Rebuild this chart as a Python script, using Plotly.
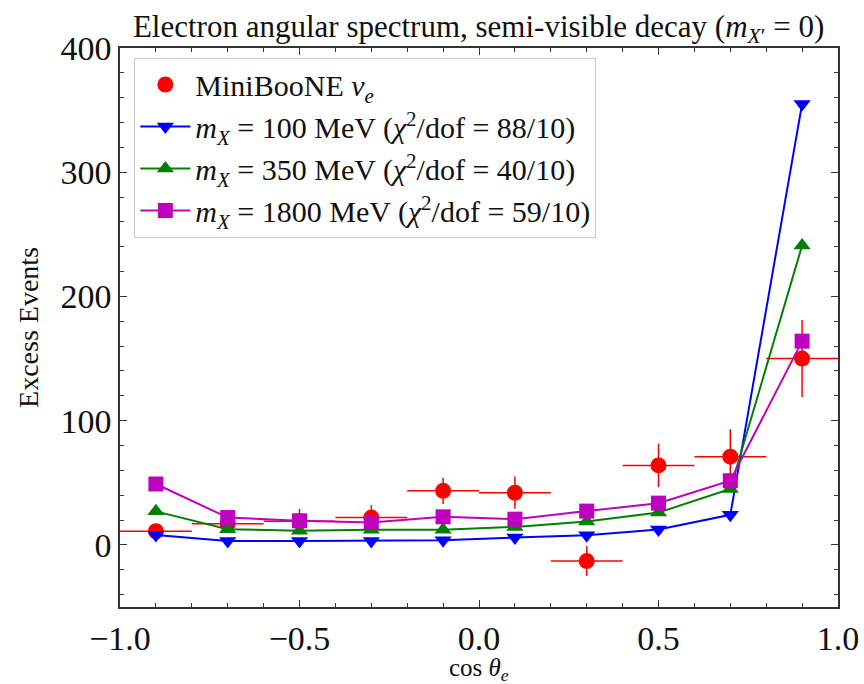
import plotly.graph_objects as go

# Bin centres (cos theta_e)
cos_theta = [-0.9, -0.7, -0.5, -0.3, -0.1, 0.1, 0.3, 0.5, 0.7, 0.9]
bin_half_width = [0.1] * 10

# MiniBooNE nu_e excess
data_y = [11, 17, 19, 22, 43.5, 42, -13, 64, 71, 150]
data_err = [4, 5, 10, 10, 10.5, 13, 12, 17.5, 22, 31]

# Model predictions
m100 = [8, 3.2, 3.2, 3.2, 3.8, 5.9, 7.8, 12.4, 24.2, 355]
m350 = [27, 12.6, 11.3, 12.1, 12.1, 14.5, 18.8, 26, 45, 241]
m1800 = [49, 22, 19.4, 18, 22.6, 20.7, 27.2, 33.6, 51.6, 164]

FONT = "Liberation Serif"

fig = go.Figure()

fig.add_trace(go.Scatter(
    x=cos_theta, y=data_y, mode="markers",
    name="MiniBooNE <i>ν<sub>e</sub></i>",
    marker=dict(symbol="circle", size=16, color="#ff0000"),
    error_y=dict(type="data", array=data_err, color="#ff0000", thickness=1.5, width=0),
    error_x=dict(type="data", array=bin_half_width, color="#ff0000", thickness=1.5, width=0),
))

series = [
    (m100, "#0000ff", "triangle-down", "100", "88/10"),
    (m350, "#008000", "triangle-up", "350", "40/10"),
    (m1800, "#bf00bf", "square", "1800", "59/10"),
]
for vals, col, sym, mass, chi in series:
    fig.add_trace(go.Scatter(
        x=cos_theta, y=vals, mode="lines+markers",
        name=f"<i>m<sub>X</sub></i> = {mass} MeV (<i>χ</i><sup>2</sup>/dof = {chi})",
        line=dict(color=col, width=2),
        marker=dict(symbol=sym, size=15, color=col),
    ))

axis_common = dict(
    showline=True, linecolor="#333333", linewidth=1.5, mirror="allticks",
    ticks="inside", ticklen=7, tickwidth=1.2, tickcolor="#333333",
    showgrid=False, zeroline=False, automargin=False,
    tickfont=dict(family=FONT, size=34, color="#111111"),
)

fig.update_xaxes(
    range=[-1.0, 1.0], dtick=0.5, tickformat=".1f",
    minor=dict(ticks="inside", ticklen=4, dtick=0.1, tickcolor="#333333", showgrid=False),
    **axis_common,
)
fig.update_yaxes(
    range=[-50, 400], dtick=100,
    minor=dict(ticks="inside", ticklen=4, dtick=20, tickcolor="#333333", showgrid=False),
    title=dict(text="Excess Events", font=dict(family=FONT, size=28, color="#111111"), standoff=14),
    **axis_common,
)

fig.update_layout(
    width=864, height=684,
    margin=dict(l=120, r=26, t=48, b=77),
    paper_bgcolor="white", plot_bgcolor="white",
    title=dict(
        text="Electron angular spectrum, semi-visible decay (<i>m</i><sub><i>X</i>′</sub> = 0)",
        font=dict(family=FONT, size=31, color="#111111"),
        x=0.554, xanchor="center", y=0.962, yanchor="middle",
    ),
    legend=dict(
        x=0.02, y=0.983, xanchor="left", yanchor="top",
        bgcolor="rgba(255,255,255,0.9)", bordercolor="#cccccc", borderwidth=1,
        font=dict(family=FONT, size=30, color="#111111"),
        itemwidth=50,
    ),
    annotations=[dict(
        text="cos <i>θ<sub>e</sub></i>", xref="paper", yref="paper",
        x=0.5, y=-0.112, xanchor="center", yanchor="middle", showarrow=False,
        font=dict(family=FONT, size=25, color="#111111"),
    )],
    showlegend=True,
)

fig.write_html("out.html")
